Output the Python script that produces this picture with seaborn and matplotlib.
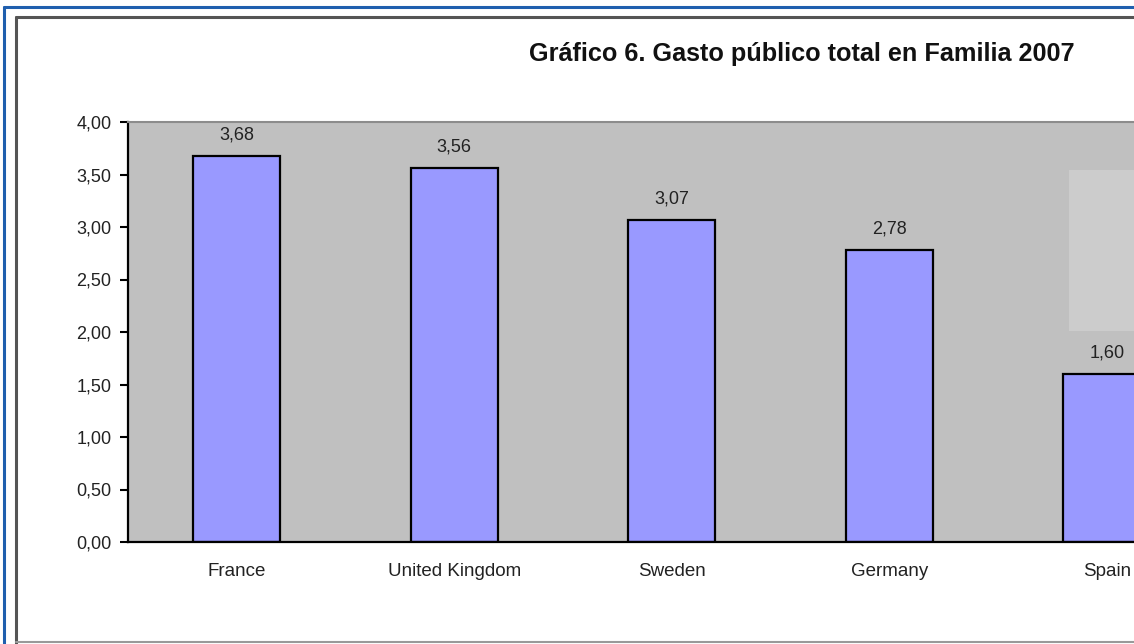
import matplotlib
matplotlib.use("Agg")
import matplotlib.pyplot as plt
import seaborn as sns
import pandas as pd
from matplotlib.lines import Line2D
from matplotlib.patches import Rectangle

countries = ["France", "United Kingdom", "Sweden", "Germany", "Spain"]
values = [3.68, 3.56, 3.07, 2.78, 1.60]
value_labels = ["3,68", "3,56", "3,07", "2,78", "1,60"]
ytick_values = [0.0, 0.5, 1.0, 1.5, 2.0, 2.5, 3.0, 3.5, 4.0]
ytick_labels = ["0,00", "0,50", "1,00", "1,50", "2,00", "2,50", "3,00", "3,50", "4,00"]
title = "Gráfico 6. Gasto público total en Familia 2007"

df = pd.DataFrame({"country": countries, "value": values})

sns.set_style("white")
plt.rcParams["font.family"] = ["Liberation Sans", "DejaVu Sans"]

W, H = 1134, 644
fig = plt.figure(figsize=(W / 100, H / 100), dpi=100)

def fx(px):
    return px / W

def fy(py):
    return 1 - py / H

# frames
fig.add_artist(Line2D([fx(4), 1.0], [fy(7), fy(7)], color="#1f5fae", lw=2.2, transform=fig.transFigure))
fig.add_artist(Line2D([fx(4), fx(4)], [fy(7), 0.0], color="#1f5fae", lw=2.2, transform=fig.transFigure))
fig.add_artist(Line2D([fx(16), 1.0], [fy(17), fy(17)], color="#555555", lw=2.2, transform=fig.transFigure))
fig.add_artist(Line2D([fx(16), fx(16)], [fy(17), fy(643)], color="#555555", lw=2.2, transform=fig.transFigure))
fig.add_artist(Line2D([fx(16), 1.0], [fy(642), fy(642)], color="#999999", lw=1.5, transform=fig.transFigure))

left_px, right_px = 128, 128 + 5 * 217.5
top_px, bot_px = 122, 542
ax = fig.add_axes([fx(left_px), fy(bot_px), (right_px - left_px) / W, (bot_px - top_px) / H])
ax.set_facecolor("#c0c0c0")

sns.barplot(data=df, x="country", y="value", color="#9999ff", edgecolor="black",
            linewidth=1.6, width=0.4, saturation=1, ax=ax)

ax.set_xlim(-0.5, 4.5)
ax.set_ylim(0, 4.0)
ax.set_xlabel("")
ax.set_ylabel("")

ax.set_yticks(ytick_values)
ax.set_yticklabels(ytick_labels, fontsize=13, color="#222222")
ax.set_xticks(range(len(countries)))
ax.set_xticklabels(countries, fontsize=13.5, color="#222222")
ax.set_xticks([0.5, 1.5, 2.5, 3.5], minor=True)
ax.tick_params(axis="x", which="major", length=0, pad=15)
ax.tick_params(axis="x", which="minor", length=6, width=1.5, direction="out", color="black")
ax.tick_params(axis="y", length=6, width=1.5, direction="out", color="black", left=True, pad=6)

for s in ["left", "bottom"]:
    ax.spines[s].set_color("black")
    ax.spines[s].set_linewidth(1.6)
ax.spines["top"].set_color("#8c8c8c")
ax.spines["top"].set_linewidth(1.5)
ax.spines["right"].set_visible(False)

# light legend-like box at the right
ax.add_patch(Rectangle((fx(1069), fy(331)), 1.0, fy(170) - fy(331), transform=fig.transFigure,
                       facecolor="#cccccc", edgecolor="none", zorder=0.5))

for i, (v, lab) in enumerate(zip(values, value_labels)):
    ax.annotate(lab, (i, v), xytext=(0, 9), textcoords="offset points", ha="center",
                va="bottom", fontsize=13, color="#222222")

fig.text(fx(802), fy(54), title, ha="center", va="center", fontsize=18.2,
         fontweight="bold", color="#111111")

fig.savefig("out.png", dpi=100)
